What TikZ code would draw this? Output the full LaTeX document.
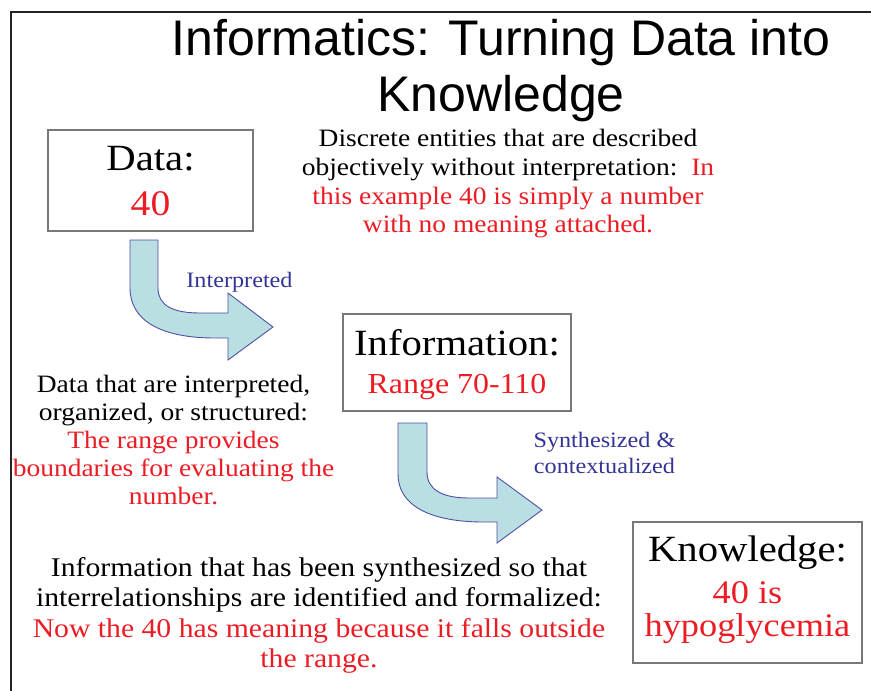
\documentclass[tikz,border=0pt]{standalone}
\usepackage{fontspec}
\setmainfont{Liberation Serif}[FakeStretch=1.1]
\newfontfamily\headfont{Liberation Sans}
\definecolor{hired}{RGB}{236,28,36}
\definecolor{labelblue}{RGB}{52,52,150}
\definecolor{arrowfill}{RGB}{185,223,227}
\definecolor{arrowedge}{RGB}{80,80,165}
\definecolor{boxedge}{RGB}{120,120,120}
\definecolor{framegray}{RGB}{35,35,35}
\newcommand{\fs}[1]{\fontsize{#1}{#1}\selectfont}
\begin{document}
\begin{tikzpicture}[x=1pt,y=-1pt,
  txt/.style={anchor=base, inner sep=0pt},
  stage/.style={draw=boxedge, line width=1.3pt, inner sep=0pt},
  blockarrow/.style={fill=arrowfill, draw=arrowedge, line width=0.9pt, line join=miter},
  frameline/.style={draw=framegray, line width=2.6pt},
  heading/.style={txt, font=\headfont\fs{50}},
  stagename/.style={txt, font=\fs{37}},
  stagevalue/.style={txt, font=\fs{33}, text=hired},
  body/.style={txt, font=\fs{25}},
  bigbody/.style={txt, font=\fs{27}},
  steplabel/.style={txt, font=\fs{22}, text=labelblue}]
\useasboundingbox (0,0) rectangle (871,691);

% slide frame
\draw[frameline] (11,691) -- (11,12) -- (871,12);

% title
\node[heading] (title1) at (501,55) {Informatics: Turning Data into};
\node[heading] (title2) at (501,111) {Knowledge};

% stage boxes
\node[stage, minimum width=205, minimum height=101] (data) at (150.5,180.5) {};
\node[stage, minimum width=228, minimum height=97] (info) at (457,362.5) {};
\node[stage, minimum width=229, minimum height=141] (know) at (747.5,592.5) {};

\node[stagename] (dataT) at (150.5,170) {Data:};
\node[stagename, text=hired, font=\fs{36}] (dataV) at (150.5,215) {40};
\node[stagename] (infoT) at (457,355) {Information:};
\node[stagevalue, font=\fs{29}] (infoV) at (457,393) {Range 70-110};
\node[stagename] (knowT) at (747.5,561) {Knowledge:};
\node[stagevalue] (knowV1) at (747.5,603) {40 is};
\node[stagevalue] (knowV2) at (747.5,636) {hypoglycemia};

% bent block arrows
\draw[blockarrow] (130,240) -- (158,240) -- (158,288)
  .. controls (158,305) and (172,313) .. (200,313) -- (228,313) -- (228,293)
  -- (273,327) -- (228,360) -- (228,338) -- (215,338)
  .. controls (160,338) and (130,320) .. (130,288) -- cycle;
\draw[blockarrow] (398,423) -- (427,423) -- (427,472)
  .. controls (427,489) and (441,498) .. (469,498) -- (497,498) -- (497,477)
  -- (542,510) -- (497,543) -- (497,522) -- (484,522)
  .. controls (429,522) and (398,505) .. (398,474) -- cycle;

\node[steplabel] (lbl1) at (239.5,287) {Interpreted};
\node[steplabel] (lbl2a) at (604.5,447) {Synthesized \&};
\node[steplabel] (lbl2b) at (604.5,473) {contextualized};

% description of data
\node[body] (d1) at (508,146) {Discrete entities that are described};
\node[body] (d2) at (508,175) {objectively without interpretation:\ \ \textcolor{hired}{In}};
\node[body, text=hired] (d3) at (508,204) {this example 40 is simply a number};
\node[body, text=hired] (d4) at (508,232) {with no meaning attached.};

% description of information
\node[body] (i1) at (173.5,392) {Data that are interpreted,};
\node[body] (i2) at (173.5,420) {organized, or structured:};
\node[body, text=hired] (i3) at (173.5,448) {The range provides};
\node[body, text=hired] (i4) at (173.5,476) {boundaries for evaluating the};
\node[body, text=hired] (i5) at (173.5,504) {number.};

% description of knowledge
\node[bigbody] (k1) at (319,576) {Information that has been synthesized so that};
\node[bigbody] (k2) at (319,606) {interrelationships are identified and formalized:};
\node[bigbody, text=hired] (k3) at (319,637) {Now the 40 has meaning because it falls outside};
\node[bigbody, text=hired] (k4) at (319,667) {the range.};
\end{tikzpicture}
\end{document}
